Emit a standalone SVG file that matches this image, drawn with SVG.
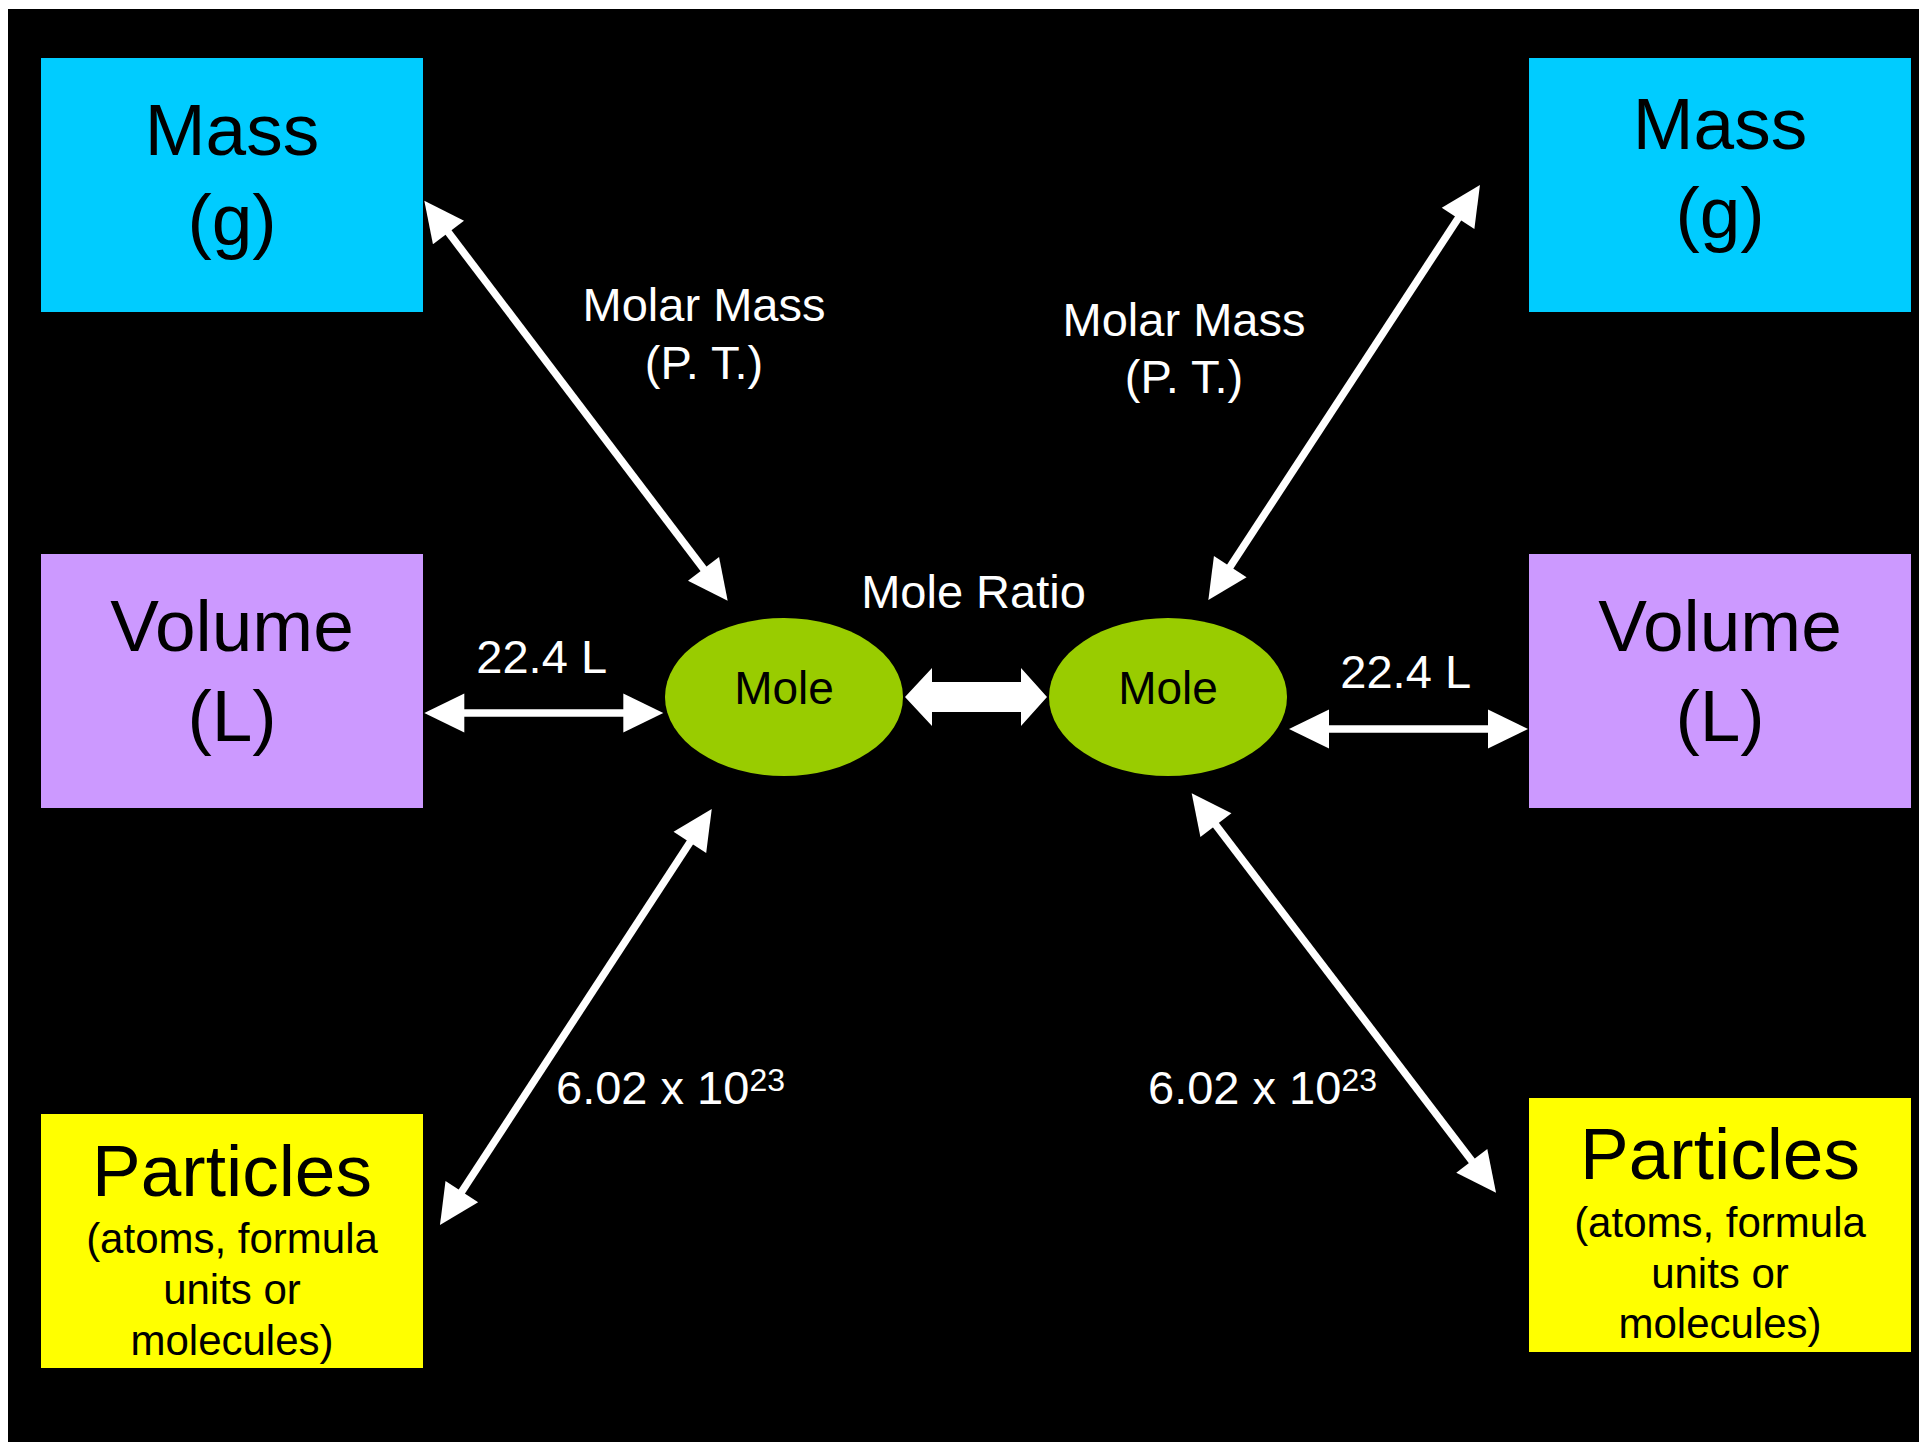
<svg xmlns="http://www.w3.org/2000/svg" width="1919" height="1442" viewBox="0 0 1919 1442">
  <style>
    text { font-family: "Liberation Sans", Arial, sans-serif; text-anchor: middle; }
    .title { font-size: 73px; fill: #000; }
    .sub { font-size: 42px; fill: #000; }
    .mole { font-size: 46px; fill: #000; }
    .lbl { font-size: 47px; fill: #fff; }
    .sup { font-size: 32px; }
    .conn { stroke: #fff; stroke-width: 7.5; fill: none; marker-start: url(#head); marker-end: url(#head); }
  </style>
  <defs>
    <marker id="head" markerUnits="userSpaceOnUse" orient="auto-start-reverse" refX="0" refY="0" markerWidth="40" markerHeight="40" overflow="visible">
      <path d="M-20,-19.5 L20,0 L-20,19.5 Z" fill="#fff"/>
    </marker>
  </defs>
  <rect x="0" y="0" width="1919" height="1442" fill="#fff"/>
  <rect x="8" y="9" width="1911" height="1433" fill="#000"/>

  <g id="mass-left">
    <rect x="41" y="58" width="382" height="254" fill="#00CCFF"/>
    <text class="title" x="232" y="155">Mass</text>
    <text class="title" x="232" y="245">(g)</text>
  </g>
  <g id="mass-right">
    <rect x="1529" y="58" width="382" height="254" fill="#00CCFF"/>
    <text class="title" x="1720" y="149">Mass</text>
    <text class="title" x="1720" y="238">(g)</text>
  </g>
  <g id="volume-left">
    <rect x="41" y="554" width="382" height="254" fill="#CC99FF"/>
    <text class="title" x="232" y="651">Volume</text>
    <text class="title" x="232" y="741">(L)</text>
  </g>
  <g id="volume-right">
    <rect x="1529" y="554" width="382" height="254" fill="#CC99FF"/>
    <text class="title" x="1720" y="651">Volume</text>
    <text class="title" x="1720" y="741">(L)</text>
  </g>
  <g id="particles-left">
    <rect x="41" y="1114" width="382" height="254" fill="#FFFF00"/>
    <text class="title" x="232" y="1196">Particles</text>
    <text class="sub" x="232" y="1253">(atoms, formula</text>
    <text class="sub" x="232" y="1304">units or</text>
    <text class="sub" x="232" y="1355">molecules)</text>
  </g>
  <g id="particles-right">
    <rect x="1529" y="1098" width="382" height="254" fill="#FFFF00"/>
    <text class="title" x="1720" y="1179">Particles</text>
    <text class="sub" x="1720" y="1237">(atoms, formula</text>
    <text class="sub" x="1720" y="1288">units or</text>
    <text class="sub" x="1720" y="1338">molecules)</text>
  </g>
  <g id="mole-left">
    <ellipse cx="784" cy="697" rx="119" ry="79" fill="#99CC00"/>
    <text class="mole" x="784" y="704">Mole</text>
  </g>
  <g id="mole-right">
    <ellipse cx="1168" cy="697" rx="119" ry="79" fill="#99CC00"/>
    <text class="mole" x="1168" y="704">Mole</text>
  </g>

  <g id="connectors">
    <line class="conn" x1="436.4" y1="216.6" x2="715.6" y2="584.8"/>
    <line class="conn" x1="1469.0" y1="201.7" x2="1219.3" y2="583.3"/>
    <line class="conn" x1="700.8" y1="825.7" x2="450.9" y2="1208.3"/>
    <line class="conn" x1="1203.8" y1="809.2" x2="1483.9" y2="1176.8"/>
    <line class="conn" x1="444.3" y1="713" x2="643.3" y2="713"/>
    <line class="conn" x1="1309" y1="729" x2="1508" y2="729"/>
    <polygon points="905,697 932,668 932,682 1021,682 1021,668 1047,697 1021,726 1021,712 932,712 932,726" fill="#fff"/>
  </g>

  <g id="labels">
    <text class="lbl" x="704" y="321">Molar Mass</text>
    <text class="lbl" x="704" y="379">(P. T.)</text>
    <text class="lbl" x="1184" y="336">Molar Mass</text>
    <text class="lbl" x="1184" y="393">(P. T.)</text>
    <text class="lbl" x="973.5" y="608">Mole Ratio</text>
    <text class="lbl" x="541.7" y="673">22.4 L</text>
    <text class="lbl" x="1405.7" y="688">22.4 L</text>
    <text class="lbl" x="556" y="1103.5" style="text-anchor:start">6.02 x 10<tspan class="sup" dy="-13">23</tspan></text>
    <text class="lbl" x="1148" y="1104" style="text-anchor:start">6.02 x 10<tspan class="sup" dy="-13">23</tspan></text>
  </g>
</svg>
